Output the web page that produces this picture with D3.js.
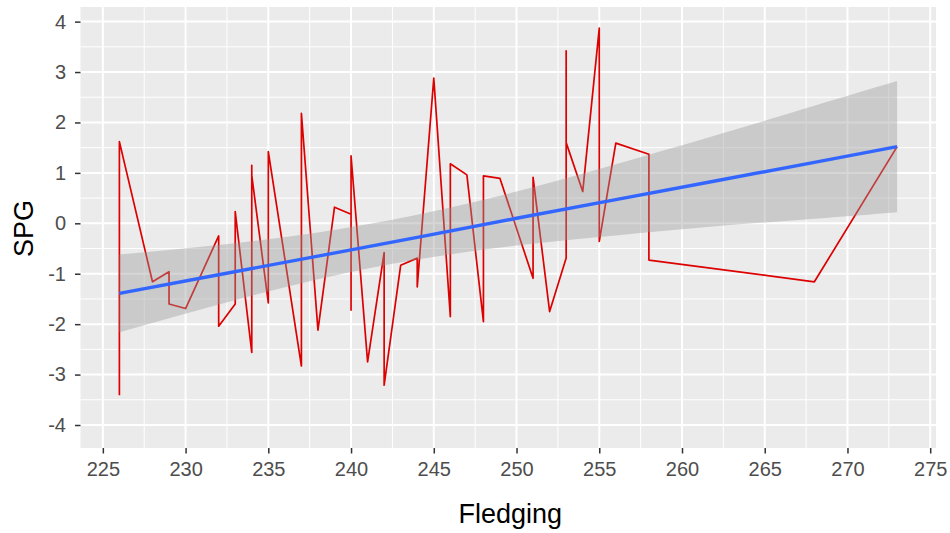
<!DOCTYPE html>
<html><head><meta charset="utf-8">
<script src="https://cdn.jsdelivr.net/npm/d3@7"></script>
<style>body{margin:0;background:#fff}svg{display:block}</style>
</head><body>
<script>
// Observed data (x = Fledging, y = SPG), in x order as drawn by geom_line
const fledging = [226,226,228,229,229,230,232,232,233,233,234,234,234,235,235,237,237,238,239,240,240,240,241,242,242,243,244,244,245,246,246,247,248,248,249,251,251,252,253,253,253,254,255,255,256,258,258,268,273];
const spg      = [-3.41,1.62,-1.16,-0.96,-1.60,-1.69,-0.25,-2.04,-1.60,0.23,-2.56,1.15,0.95,-1.58,1.42,-2.83,2.18,-2.12,0.32,0.18,-1.72,1.34,-2.75,-0.58,-3.21,-0.83,-0.69,-1.26,2.88,-1.85,1.18,0.96,-1.95,0.94,0.89,-1.09,0.91,-1.75,-0.69,3.42,1.60,0.63,3.87,-0.36,1.59,1.37,-0.73,-1.16,1.52];
// Linear smooth with confidence band
const smoothX     = [226,232,238,244,250,256,262,268,273];
const smoothFit   = [-1.39,-1.02,-0.65,-0.28,0.10,0.47,0.84,1.21,1.52];
const smoothLower = [-2.16,-1.61,-1.11,-0.72,-0.44,-0.24,-0.06,0.09,0.22];
const smoothUpper = [-0.62,-0.43,-0.18,0.17,0.63,1.17,1.74,2.33,2.82];
const xTicks = [225,230,235,240,245,250,255,260,265,270,275];
const yTicks = [-4,-3,-2,-1,0,1,2,3,4];
const xMinor = [227.5,232.5,237.5,242.5,247.5,252.5,257.5,262.5,267.5,272.5];
const yMinor = [-3.5,-2.5,-1.5,-0.5,0.5,1.5,2.5,3.5];

const W = 950, H = 533;
const P = {l: 80.5, r: 936, t: 7, b: 448};
const FONT = "'Liberation Sans', Arial, sans-serif";
const svg = d3.select("body").append("svg").attr("width", W).attr("height", H)
  .style("font-family", FONT);

const x = d3.scaleLinear().domain([223.65, 275.35]).range([P.l, P.r]);
const y = d3.scaleLinear().domain([-4.456, 4.29]).range([P.b, P.t]);

svg.append("rect").attr("x", P.l).attr("y", P.t).attr("width", P.r - P.l).attr("height", P.b - P.t).attr("fill", "#EBEBEB");

const grid = svg.append("g");
grid.selectAll(".xm").data(xMinor).join("line").attr("x1", d => x(d)).attr("x2", d => x(d)).attr("y1", P.t).attr("y2", P.b).attr("stroke", "#fff").attr("stroke-width", 1);
grid.selectAll(".ym").data(yMinor).join("line").attr("y1", d => y(d)).attr("y2", d => y(d)).attr("x1", P.l).attr("x2", P.r).attr("stroke", "#fff").attr("stroke-width", 1);
grid.selectAll(".xM").data(xTicks).join("line").attr("x1", d => x(d)).attr("x2", d => x(d)).attr("y1", P.t).attr("y2", P.b).attr("stroke", "#fff").attr("stroke-width", 2);
grid.selectAll(".yM").data(yTicks).join("line").attr("y1", d => y(d)).attr("y2", d => y(d)).attr("x1", P.l).attr("x2", P.r).attr("stroke", "#fff").attr("stroke-width", 2);

const pts = fledging.map((f, i) => [f, spg[i]]);
svg.append("path").datum(pts)
  .attr("d", d3.line().x(d => x(d[0])).y(d => y(d[1])))
  .attr("fill", "none").attr("stroke", "#dd0000").attr("stroke-width", 1.7).attr("stroke-linejoin", "round");

const sm = smoothX.map((s, i) => ({x: s, f: smoothFit[i], lo: smoothLower[i], hi: smoothUpper[i]}));
svg.append("path").datum(sm)
  .attr("d", d3.area().curve(d3.curveNatural).x(d => x(d.x)).y0(d => y(d.lo)).y1(d => y(d.hi)))
  .attr("fill", "#999999").attr("fill-opacity", 0.4);
svg.append("path").datum(sm)
  .attr("d", d3.line().x(d => x(d.x)).y(d => y(d.f)))
  .attr("fill", "none").attr("stroke", "#3366FF").attr("stroke-width", 3.4);

// Axes
const fmt = d => String(d);
const xAxis = d3.axisBottom(x).tickValues(xTicks).tickSize(5.5).tickPadding(8).tickFormat(fmt);
const gx = svg.append("g").attr("transform", `translate(0,${P.b})`).call(xAxis);
gx.select(".domain").remove();
gx.selectAll(".tick line").attr("stroke", "#333").attr("stroke-width", 1.5);
gx.selectAll(".tick text").attr("fill", "#4D4D4D").style("font-size", "20px").style("font-family", FONT);

const yAxis = d3.axisLeft(y).tickValues(yTicks).tickSize(5.5).tickPadding(9).tickFormat(fmt);
const gy = svg.append("g").attr("transform", `translate(${P.l},0)`).call(yAxis);
gy.select(".domain").remove();
gy.selectAll(".tick line").attr("stroke", "#333").attr("stroke-width", 1.5);
gy.selectAll(".tick text").attr("fill", "#4D4D4D").style("font-size", "20px").style("font-family", FONT);

svg.append("text").attr("x", (P.l + P.r) / 2 + 2).attr("y", 523).attr("text-anchor", "middle")
  .style("font-size", "27px").attr("fill", "#000").text("Fledging");
svg.append("text").attr("transform", `translate(33,${(P.t + P.b) / 2 + 1}) rotate(-90)`).attr("text-anchor", "middle")
  .style("font-size", "27px").attr("fill", "#000").text("SPG");
</script>
</body></html>
